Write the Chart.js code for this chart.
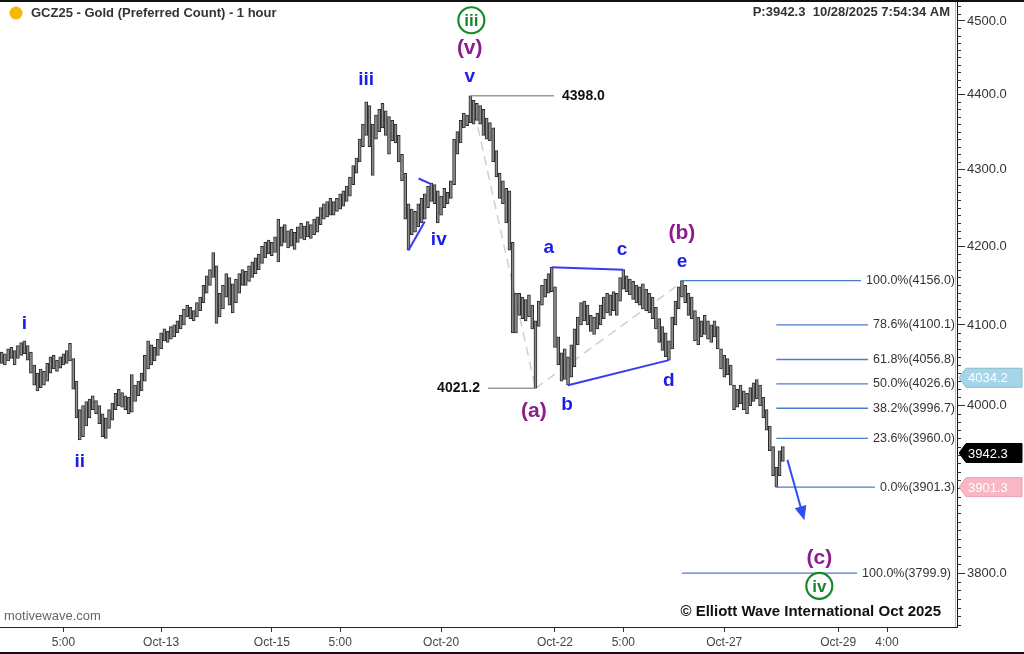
<!DOCTYPE html>
<html>
<head>
<meta charset="utf-8">
<script src="https://cdn.jsdelivr.net/npm/chart.js@4.4.1/dist/chart.umd.min.js"></script>
<style>
  html, body { margin: 0; padding: 0; background: #fff; }
  #wrap { width: 1024px; height: 654px; position: relative; }
</style>
</head>
<body>
<div id="wrap"><canvas id="chart" width="1024" height="654"></canvas></div>
<script>
// hourly bars (high / low per bar)
const highs = [
  4066,4064,4070,4072,4068,4074,4078,4080,4074,4066,4050,4040,
  4045,4042,4052,4060,4062,4056,4060,4064,4068,4077,
  4058,4030,3995,
  4000,4005,4008,4012,4006,4000,3990,3985,3995,4003,4015,4020,4016,4012,4010,4038,4025,4030,4040,4062,4080,
  4075,4072,4082,4090,4095,4092,4098,4100,4105,4112,4120,4125,4122,4118,4128,4135,4150,4162,4170,4192,4175,4140,4150,4165,4160,4152,4158,4165,
  4170,4168,4175,4180,4185,4190,4200,4205,4208,4205,4212,4235,4225,4228,4220,4222,4218,4225,4230,4226,4232,4228,4235,4238,4250,4255,4258,4262,4258,4262,4268,4272,
  4278,4290,4305,4315,4340,4360,4390,4385,4360,4372,4380,4388,4378,4370,4365,4360,4345,4320,4295,4255,4248,4245,4255,4262,4268,4278,4282,4280,4272,4265,4275,4270,4285,4340,4350,4365,4375,4372,4398,4392,4388,4385,4380,4368,4362,4355,4325,4295,4285,4275,
  4272,4205,4140,4140,4135,4132,4138,4125,4105,4130,4150,4158,4165,4173,4148,4085,4065,4070,4060,4075,4095,4110,4128,4130,4125,4112,4110,4115,4125,4135,4140,4138,4142,4140,4160,4170,4162,4158,4155,4150,4148,4152,4145,4140,4135,4122,4108,4098,4090,4080,
  4110,4130,4148,4156,4150,4140,4135,4118,4110,4105,4112,4105,4100,4105,4098,4070,4062,4058,4050,4025,4020,4025,4018,4015,4022,4028,4032,4025,4010,3995,3975,3950,3925,3945,3950
];
const lows = [
  4052,4050,4055,4058,4050,4058,4062,4064,4056,4040,4025,4018,
  4022,4025,4030,4040,4045,4042,4046,4050,4052,4055,
  4020,3985,3958,
  3962,3975,3985,3995,3990,3978,3962,3960,3972,3982,3995,4000,3998,3995,3990,3992,4005,4012,4018,4030,4045,
  4050,4055,4062,4070,4080,4078,4082,4085,4090,4095,4100,4110,4108,4105,4110,4118,4128,4140,4150,4160,4102,4110,4120,4135,4125,4115,4128,4140,
  4150,4150,4155,4160,4165,4170,4178,4185,4190,4188,4192,4180,4200,4205,4198,4200,4196,4205,4210,4208,4212,4210,4215,4218,4228,4235,4238,4240,4240,4245,4248,4252,
  4258,4265,4280,4295,4310,4330,4345,4330,4292,4340,4350,4355,4345,4320,4338,4335,4310,4285,4235,4195,4215,4218,4225,4230,4235,4250,4258,4255,4230,4240,4250,4255,4262,4280,4320,4335,4355,4358,4362,4360,4365,4360,4345,4340,4338,4310,4290,4262,4255,4230,
  4195,4090,4090,4112,4108,4105,4110,4095,4021.2,4098,4125,4135,4140,4142,4072,4050,4030,4032,4025,4035,4048,4075,4100,4105,4100,4092,4088,4095,4100,4108,4115,4112,4118,4112,4130,4145,4142,4138,4132,4128,4125,4120,4118,4115,4108,4095,4078,4068,4060,4056,
  4070,4100,4120,4135,4128,4112,4108,4080,4075,4085,4088,4082,4078,4085,4070,4045,4035,4038,4025,3995,3998,4002,3995,3990,4000,4005,4008,4000,3985,3970,3945,3915,3901.3,3915,3932
];
const lastPrice = 3942.3;
const slotCount = 294;                 // bar slots across the plot, incl. empty future space
const tickIdx = [19, 49, 83, 104, 135, 170, 191, 222, 257, 272];
const tickText = ['5:00', 'Oct-13', 'Oct-15', '5:00', 'Oct-20', 'Oct-22', '5:00', 'Oct-27', 'Oct-29', '4:00'];
const yTicks = [3800, 3900, 4000, 4100, 4200, 4300, 4400, 4500];

const fibPct = ['100.0%', '78.6%', '61.8%', '50.0%', '38.2%', '23.6%', '0.0%'];
const fibPrice = [4156.0, 4100.1, 4056.8, 4026.6, 3996.7, 3960.0, 3901.3];
const targetPct = '100.0%';
const targetPrice = 3799.9;
const markerPrices = [4034.2, 3942.3, 3901.3];

const FONT = '"Liberation Sans", Arial, sans-serif';
const BLUE = '#1c1ce8', PURPLE = '#8b1d8f', GREEN = '#17892a', FIB = '#4c7ccc';

// wave labels: text, bar index, price, colour, px size
const waveLabels = [
  ['i', 7, 4101, BLUE, 19], ['ii', 24, 3932, BLUE, 19], ['iii', 112, 4420, BLUE, 19],
  ['iv', 134.3, 4208, BLUE, 19], ['v', 143.8, 4424, BLUE, 19], ['(v)', 143.8, 4462, PURPLE, 21],
  ['(a)', 163.5, 3993, PURPLE, 21], ['a', 168.1, 4198, BLUE, 19], ['b', 173.7, 4001, BLUE, 19],
  ['c', 190.6, 4195, BLUE, 19], ['(b)', 209, 4217, PURPLE, 21], ['e', 209, 4180, BLUE, 19],
  ['d', 205, 4030, BLUE, 19], ['(c)', 251.2, 3817, PURPLE, 21]
];
const circled = [['iii', 144.3, 4501], ['iv', 251.2, 3785]];

const labels = Array.from({ length: slotCount }, () => '');
tickIdx.forEach((k, n) => { labels[k] = tickText[n]; });

function seg(ctx, x1, y1, x2, y2) {
  ctx.beginPath(); ctx.moveTo(x1, y1); ctx.lineTo(x2, y2); ctx.stroke();
}

const overlay = {
  id: 'overlay',
  beforeDatasetsDraw(chart) {
    const ctx = chart.ctx, xs = chart.scales.x, ys = chart.scales.y;
    const X = v => xs.getPixelForValue(v), Y = v => ys.getPixelForValue(v);
    ctx.save();
    ctx.strokeStyle = '#cfcfcf'; ctx.lineWidth = 1.5; ctx.setLineDash([9, 6]);
    seg(ctx, X(146.3), Y(4356), X(164), Y(4021.2));
    seg(ctx, X(164), Y(4021.2), X(209), Y(4154));
    ctx.restore();
  },
  afterDraw(chart) {
    const ctx = chart.ctx, xs = chart.scales.x, ys = chart.scales.y;
    const X = v => xs.getPixelForValue(v), Y = v => ys.getPixelForValue(v);
    const area = chart.chartArea;
    ctx.save();

    // price callouts
    ctx.strokeStyle = '#9a9a9a'; ctx.lineWidth = 1.5;
    seg(ctx, X(144), Y(4398), X(169.7), Y(4398));
    seg(ctx, X(149.4), Y(4021.2), X(164), Y(4021.2));
    ctx.font = 'bold 14px ' + FONT; ctx.fillStyle = '#111'; ctx.textBaseline = 'middle';
    ctx.textAlign = 'left'; ctx.fillText('4398.0', X(169.7) + 8, Y(4398));
    ctx.textAlign = 'right'; ctx.fillText('4021.2', X(149.4) - 8, Y(4021.2));

    // wave lines
    ctx.strokeStyle = '#3a3af0'; ctx.lineWidth = 2;
    seg(ctx, X(169), Y(4173), X(191), Y(4170));
    seg(ctx, X(174), Y(4025), X(205), Y(4056));
    seg(ctx, X(125), Y(4195), X(130), Y(4232));
    seg(ctx, X(128.1), Y(4288), X(131.8), Y(4281));

    // fib levels
    ctx.font = '12.5px ' + FONT; ctx.textAlign = 'right'; ctx.textBaseline = 'middle';
    const rightX = area.right - 2;
    fibPrice.forEach((p, n) => {
      const txt = fibPct[n] + '(' + p.toFixed(1) + ')';
      const w = ctx.measureText(txt).width;
      const x0 = n === 0 ? X(209) : X(238);
      ctx.strokeStyle = FIB; ctx.lineWidth = 1.3;
      seg(ctx, x0, Y(p), rightX - w - 5, Y(p));
      ctx.fillStyle = '#333'; ctx.fillText(txt, rightX, Y(p));
    });
    const ttxt = targetPct + '(' + targetPrice.toFixed(1) + ')';
    const tw = ctx.measureText(ttxt).width;
    ctx.strokeStyle = FIB;
    seg(ctx, X(209), Y(targetPrice), rightX - 4 - tw - 5, Y(targetPrice));
    ctx.fillStyle = '#333'; ctx.fillText(ttxt, rightX - 4, Y(targetPrice));

    // projection arrow
    const ax1 = X(241.4), ay1 = Y(3934), ax2 = X(246.6), ay2 = Y(3862);
    ctx.strokeStyle = '#2f4ff0'; ctx.fillStyle = '#2f4ff0'; ctx.lineWidth = 2;
    const ang = Math.atan2(ay2 - ay1, ax2 - ax1);
    seg(ctx, ax1, ay1, ax2 - 10 * Math.cos(ang), ay2 - 10 * Math.sin(ang));
    ctx.beginPath();
    ctx.moveTo(ax2, ay2);
    ctx.lineTo(ax2 - 14 * Math.cos(ang) + 6 * Math.sin(ang), ay2 - 14 * Math.sin(ang) - 6 * Math.cos(ang));
    ctx.lineTo(ax2 - 14 * Math.cos(ang) - 6 * Math.sin(ang), ay2 - 14 * Math.sin(ang) + 6 * Math.cos(ang));
    ctx.closePath(); ctx.fill();

    // wave labels
    ctx.textAlign = 'center'; ctx.textBaseline = 'middle';
    waveLabels.forEach(([t, i, p, c, s]) => {
      ctx.font = 'bold ' + s + 'px ' + FONT; ctx.fillStyle = c;
      ctx.fillText(t, X(i), Y(p));
    });
    circled.forEach(([t, i, p]) => {
      const cx = X(i), cy = Y(p);
      ctx.fillStyle = '#fff'; ctx.strokeStyle = GREEN; ctx.lineWidth = 2.2;
      ctx.beginPath(); ctx.arc(cx, cy, 13, 0, Math.PI * 2); ctx.fill(); ctx.stroke();
      ctx.font = 'bold 17px ' + FONT; ctx.fillStyle = GREEN;
      ctx.fillText(t, cx, cy + 1);
    });

    // y axis minor ticks
    ctx.strokeStyle = '#333'; ctx.lineWidth = 1;
    for (let v = 3740; v <= 4520; v += 10) {
      if (v % 100 === 0) continue;
      const y = Math.round(Y(v)) + 0.5;
      seg(ctx, area.right, y, area.right + 4, y);
    }
    ctx.strokeStyle = '#bdbdbd';
    seg(ctx, area.right - 1.5, area.top, area.right - 1.5, area.bottom);

    // price markers on the axis
    const styles = [['#a3d6ea', '#fff', '#8fb9c8'], ['#000', '#fff', '#000'], ['#f7b7c3', '#fff', '#e9a3b0']];
    ctx.font = '13px ' + FONT; ctx.textAlign = 'left';
    markerPrices.forEach((p, n) => {
      const y = Y(p), x0 = area.right + 2, x1 = 1022, h = 19;
      ctx.beginPath();
      ctx.moveTo(x0, y); ctx.lineTo(x0 + 7, y - h / 2); ctx.lineTo(x1, y - h / 2);
      ctx.lineTo(x1, y + h / 2); ctx.lineTo(x0 + 7, y + h / 2); ctx.closePath();
      ctx.fillStyle = styles[n][0]; ctx.fill();
      ctx.strokeStyle = styles[n][2]; ctx.lineWidth = 1; ctx.stroke();
      ctx.fillStyle = styles[n][1];
      ctx.fillText(p.toFixed(1), x0 + 9, y + 1);
    });

    // header / footer
    ctx.fillStyle = '#f6b800';
    ctx.beginPath(); ctx.arc(16, 13, 6.5, 0, Math.PI * 2); ctx.fill();
    ctx.font = 'bold 13px ' + FONT; ctx.fillStyle = '#333'; ctx.textBaseline = 'middle';
    ctx.textAlign = 'left'; ctx.fillText('GCZ25 - Gold (Preferred Count) - 1 hour', 31, 13);
    ctx.textAlign = 'right'; ctx.fillText('P:' + lastPrice.toFixed(1) + '  10/28/2025 7:54:34 AM', 950, 12);
    ctx.font = '13px ' + FONT; ctx.fillStyle = '#666'; ctx.textAlign = 'left';
    ctx.fillText('motivewave.com', 4, 616);
    ctx.font = 'bold 15px ' + FONT; ctx.fillStyle = '#111'; ctx.textAlign = 'right';
    ctx.fillText('\u00a9 Elliott Wave International Oct 2025', 941, 612);

    // frame
    ctx.fillStyle = '#111';
    ctx.fillRect(0, 0, 1024, 2);
    ctx.fillRect(0, 652, 1024, 2);
    ctx.restore();
  }
};

new Chart(document.getElementById('chart'), {
  type: 'bar',
  data: {
    labels: labels,
    datasets: [{
      data: lows.map((l, i) => [l, highs[i]]),
      backgroundColor: '#8c8c8c',
      borderColor: '#2b2b2b',
      borderWidth: 1,
      borderSkipped: false,
      barThickness: 3
    }]
  },
  options: {
    responsive: false,
    animation: false,
    layout: { padding: 0 },
    plugins: { legend: { display: false }, tooltip: { enabled: false } },
    scales: {
      x: {
        type: 'category',
        offset: true,
        grid: { display: true, drawOnChartArea: false, offset: false, tickLength: 5, color: '#333' },
        border: { color: '#222', width: 1 },
        ticks: { autoSkip: false, maxRotation: 0, padding: 3, color: '#444', font: { family: FONT, size: 12 } },
        afterBuildTicks: s => { s.ticks = tickIdx.map(v => ({ value: v })); },
        afterFit: s => { s.height = 27; s.paddingLeft = 0; s.paddingRight = 0; }
      },
      y: {
        type: 'logarithmic',
        position: 'right',
        min: 3737.7,
        max: 4529,
        bounds: 'data',
        grid: { drawOnChartArea: false, tickLength: 8, color: '#333' },
        border: { color: '#111', width: 1 },
        ticks: { padding: 2, color: '#333', font: { family: FONT, size: 13 }, callback: v => Number(v).toFixed(1) },
        afterBuildTicks: s => { s.ticks = yTicks.map(v => ({ value: v })); },
        afterFit: s => { s.width = 67; s.paddingTop = 0; s.paddingBottom = 0; }
      }
    }
  },
  plugins: [overlay]
});
</script>
</body>
</html>
